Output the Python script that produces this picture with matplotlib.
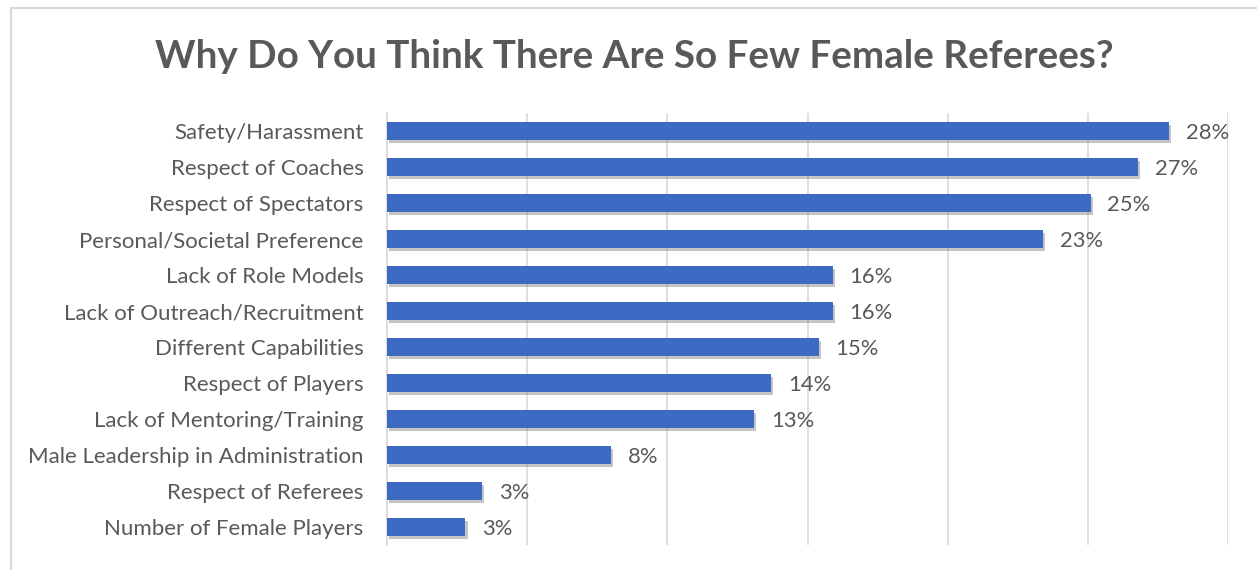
import matplotlib.pyplot as plt
import matplotlib.patheffects as pe
from matplotlib.lines import Line2D

categories = [
    "Safety/Harassment",
    "Respect of Coaches",
    "Respect of Spectators",
    "Personal/Societal Preference",
    "Lack of Role Models",
    "Lack of Outreach/Recruitment",
    "Different Capabilities",
    "Respect of Players",
    "Lack of Mentoring/Training",
    "Male Leadership in Administration",
    "Respect of Referees",
    "Number of Female Players",
]
values = [27.9, 26.8, 25.1, 23.4, 15.9, 15.9, 15.4, 13.7, 13.1, 8.0, 3.4, 2.8]
labels = ["28%", "27%", "25%", "23%", "16%", "16%", "15%", "14%", "13%", "8%", "3%", "3%"]

plt.rcParams['font.family'] = ['Lato', 'DejaVu Sans']
text_color = '#595959'

fig = plt.figure(figsize=(12.57, 5.70), dpi=100)
ax = fig.add_axes([387 / 1257, 25 / 570, 841 / 1257, 432 / 570])

y = list(range(len(categories)))
bars = ax.barh(y, values, height=0.5, color='#3d6bc4', zorder=3)
for b in bars:
    b.set_path_effects([pe.SimplePatchShadow(offset=(1.5, -2.5), shadow_rgbFace='#7f7f7f', alpha=0.45),
                        pe.Normal()])

for yi, v, lab in zip(y, values, labels):
    ax.text(v + 0.6, yi + 0.05, lab, va='center', ha='left', fontsize=15.8, color=text_color)

ax.set_xlim(0, 30)
ax.set_ylim(len(categories) - 0.5, -0.5)
ax.set_xticks([0, 5, 10, 15, 20, 25, 30])
ax.set_xticklabels([])
ax.tick_params(axis='x', length=0)
ax.set_yticks(y)
ax.set_yticklabels(categories, fontsize=16, color=text_color)
ax.tick_params(axis='y', length=0, pad=17)
ax.grid(axis='x', color='#d9d9d9', linewidth=1.2, zorder=0)
for s in ['top', 'right', 'bottom']:
    ax.spines[s].set_visible(False)
ax.spines['left'].set_color('#d9d9d9')
ax.spines['left'].set_linewidth(1.2)

fig.text(634 / 1257, 1 - 56 / 570, "Why Do You Think There Are So Few Female Referees?",
         ha='center', va='center', fontsize=27.8, fontweight='bold', color=text_color)

# outer chart frame
fig.add_artist(Line2D([11 / 1257, 11 / 1257], [0, 1 - 8 / 570], transform=fig.transFigure,
                      color='#d9d9d9', linewidth=1.5))
fig.add_artist(Line2D([11 / 1257, 1], [1 - 8 / 570, 1 - 8 / 570], transform=fig.transFigure,
                      color='#d9d9d9', linewidth=1.5))

fig.savefig("out.png", dpi=100)
